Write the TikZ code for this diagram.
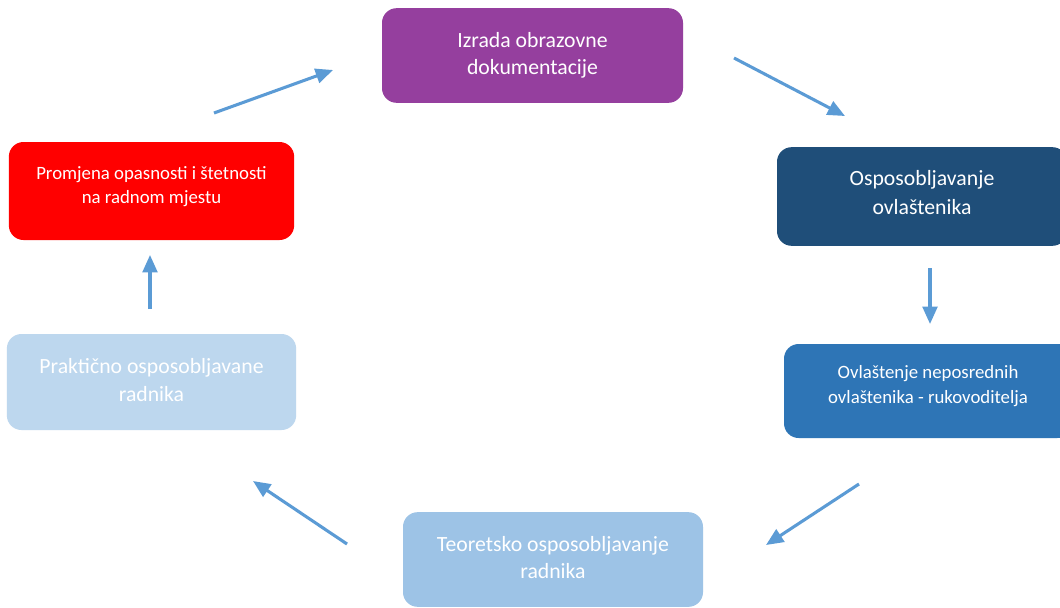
\documentclass[tikz,border=0pt]{standalone}
\usepackage{fontspec}
\setmainfont{Carlito}
\usetikzlibrary{positioning,arrows.meta}
\definecolor{ljubicasta}{HTML}{953F9E}
\definecolor{tamnoplava}{HTML}{1F4E79}
\definecolor{plava}{HTML}{2E75B6}
\definecolor{svijetloplava}{HTML}{9DC3E6}
\definecolor{blijedoplava}{HTML}{BDD7EE}
\definecolor{strelica}{HTML}{5B9BD5}
\tikzset{
  korak/.style={rectangle, rounded corners=11pt, align=center, text=white,
    font=\fontsize{16.3}{20.5}\selectfont, inner sep=0pt},
  sitno/.style={font=\fontsize{14.1}{18.5}\selectfont},
  tok/.style={draw=strelica, line width=2.3pt,
    -{Triangle[length=13pt,width=11pt]}}
}

\begin{document}
\begin{tikzpicture}[x=0.75pt,y=-0.75pt]
  \clip (0,0) rectangle (1060,607);
  \fill[white] (0,0) rectangle (1060,607);
  % kutije
  \node[korak, fill=ljubicasta, minimum width=225.75pt, minimum height=71pt,
    text depth=3pt]
    (izrada) at (532.5,55.5) {Izrada obrazovne\\dokumentacije};
  \node[korak, fill=tamnoplava, minimum width=217.5pt, minimum height=74pt,
    text depth=6.75pt, font=\fontsize{16.3}{21.75}\selectfont]
    (ovlastenik) at (922,196.5) {Osposobljavanje\\ovlaštenika};
  \node[korak, sitno, fill=plava, minimum width=216pt, minimum height=70.5pt,
    text depth=9.75pt]
    (rukovoditelj) at (928,391) {Ovlaštenje neposrednih\\ovlaštenika - rukovoditelja};
  \node[korak, fill=svijetloplava, minimum width=225pt, minimum height=71pt,
    text depth=3pt]
    (teorija) at (553,559.5) {Teoretsko osposobljavanje\\radnika};
  \node[korak, fill=blijedoplava, minimum width=217pt, minimum height=72pt,
    text depth=3pt]
    (praksa) at (151.5,382) {Praktično osposobljavane\\radnika};
  \node[korak, sitno, fill=red, minimum width=214pt, minimum height=73.5pt,
    text depth=9pt]
    (promjena) at (151.5,191) {Promjena opasnosti i štetnosti\\na radnom mjestu};
  % strelice
  \coordinate (s1a) at (214,113);  \coordinate (s1b) at (333,70);
  \coordinate (s2a) at (734,58);   \coordinate (s2b) at (845,116);
  \coordinate (s3a) at (930,268);  \coordinate (s3b) at (930,324);
  \coordinate (s4a) at (859,484);  \coordinate (s4b) at (766,545);
  \coordinate (s5a) at (347,544);  \coordinate (s5b) at (253,481);
  \coordinate (s6a) at (150,309);  \coordinate (s6b) at (150,255);
  \draw[tok] (s1a) -- (s1b);
  \draw[tok] (s2a) -- (s2b);
  \draw[tok] (s3a) -- (s3b);
  \draw[tok] (s4a) -- (s4b);
  \draw[tok] (s5a) -- (s5b);
  \draw[tok] (s6a) -- (s6b);
\end{tikzpicture}
\end{document}
